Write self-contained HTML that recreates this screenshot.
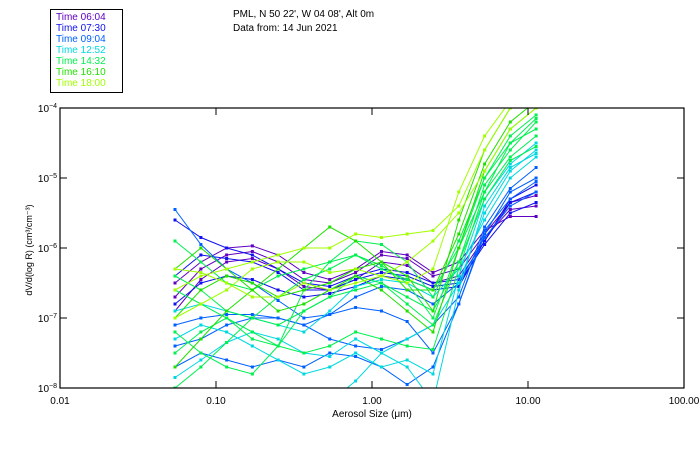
<!DOCTYPE html>
<html><head><meta charset="utf-8"><style>
body{margin:0;background:#fff;}
svg{display:block;font-family:"Liberation Sans",sans-serif;}
</style></head><body>
<svg id="chart" width="700" height="450" viewBox="0 0 700 450">
<rect width="700" height="450" fill="#fff"/>
<g>
<rect x="50.5" y="9.5" width="72" height="83" fill="none" stroke="#000"/>
<g id="legend-items" font-size="10"></g>
</g>
<text x="233" y="17" font-size="10">PML, N 50 22', W 04 08', Alt 0m</text>
<text x="233" y="31" font-size="10">Data from: 14 Jun 2021</text>
<clipPath id="clip"><rect x="60" y="108" width="624" height="280"/></clipPath>
<g id="series" clip-path="url(#clip)"></g>
<rect x="60" y="108" width="624" height="280" fill="none" stroke="#000" stroke-width="1.2"/>
<g id="axes" font-size="10"></g>
<text x="372" y="417" font-size="10" text-anchor="middle">Aerosol Size (μm)</text>
<text transform="translate(32,250) rotate(-90)" font-size="9" text-anchor="middle">dV/d(log R) (cm³/cm⁻³)</text>
</svg>
<script>
const sizes=[0.0546,0.0800,0.117,0.171,0.250,0.366,0.536,0.785,1.15,1.68,2.46,3.60,5.27,7.70,11.27];
const legendTimes=["06:04","07:30","09:04","12:52","14:32","16:10","18:00"];
const palette=["#6000c0","#1010f0","#0060ff","#00d8e0","#00f050","#20e000","#a0ff00"];
const seriesGroup=[0,0,0,1,1,1,2,2,2,2,3,3,3,3,4,4,4,4,4,4,5,5,5,6,6,6];
const s00=[-6.5,-6.2,-6.0,-5.97,-6.1,-6.35,-6.45,-6.3,-6.05,-6.1,-6.35,-6.2,-5.75,-5.55,-5.55];
const s01=[-6.7,-6.3,-6.1,-6.05,-6.2,-6.45,-6.5,-6.35,-6.1,-6.15,-6.4,-6.3,-5.8,-5.35,-5.25];
const s02=[-6.9,-6.45,-6.2,-6.15,-6.3,-6.55,-6.6,-6.45,-6.2,-6.25,-6.5,-6.4,-5.85,-5.45,-5.4];
const s03=[-5.6,-5.85,-6.0,-6.1,-6.3,-6.5,-6.55,-6.4,-6.3,-6.35,-6.5,-6.45,-5.9,-5.35,-5.2];
const s04=[-6.4,-6.1,-6.15,-6.2,-6.35,-6.6,-6.6,-6.45,-6.35,-6.4,-6.55,-6.5,-5.95,-5.5,-5.35];
const s05=[-6.8,-6.5,-6.4,-6.45,-6.6,-6.7,-6.65,-6.55,-6.4,-6.45,-6.6,-6.55,-5.9,-5.3,-5.1];
const s06=[-5.45,-5.95,-6.3,-6.5,-6.75,-7.0,-6.95,-6.85,-6.9,-7.05,-7.5,-6.8,-5.8,-5.2,-5.0];
const s07=[-7.4,-7.3,-7.1,-7.0,-7.0,-7.1,-7.3,-7.4,-7.45,-7.3,-7.1,-6.7,-5.7,-5.15,-4.85];
const s08=[-7.7,-7.5,-7.6,-7.7,-7.6,-7.7,-7.5,-7.55,-7.7,-7.95,-7.7,-6.8,-5.75,-5.3,-5.05];
const s09=[-7.1,-7.0,-6.95,-6.95,-7.0,-7.1,-6.95,-6.7,-6.55,-6.6,-6.8,-6.5,-5.85,-5.4,-5.2];
const s10=[-7.85,-7.6,-7.35,-7.2,-7.3,-7.5,-7.55,-7.3,-7.5,-7.7,-8.2,-6.6,-5.4,-4.85,-4.65];
const s11=[-8.15,-8.2,-8.25,-8.3,-8.3,-8.2,-8.2,-7.9,-7.5,-7.3,-7.1,-6.5,-5.5,-4.9,-4.6];
const s12=[-6.9,-6.8,-6.9,-7.0,-7.1,-7.2,-6.9,-6.55,-6.45,-6.5,-6.7,-6.3,-5.6,-5.0,-4.7];
const s13=[-7.3,-7.1,-7.2,-7.4,-7.6,-7.8,-7.7,-7.5,-7.7,-7.6,-7.8,-6.4,-5.3,-4.8,-4.5];
const s14=[-7.5,-7.2,-7.0,-7.2,-7.4,-7.5,-7.4,-7.2,-7.3,-7.4,-7.45,-6.3,-5.2,-4.7,-4.4];
const s15=[-6.4,-6.6,-6.9,-7.0,-7.1,-6.9,-6.7,-6.6,-6.5,-6.7,-6.9,-6.2,-5.3,-4.75,-4.55];
const s16=[-8.0,-7.7,-7.35,-7.0,-6.7,-6.45,-6.3,-6.1,-6.3,-6.45,-6.6,-6.0,-5.0,-4.5,-4.3];
const s17=[-6.6,-6.8,-7.0,-7.3,-7.4,-6.6,-6.2,-5.9,-5.95,-6.2,-6.7,-5.9,-5.0,-4.4,-4.1];
const s18=[-7.2,-7.5,-7.7,-7.8,-7.4,-6.9,-6.7,-6.4,-6.5,-6.8,-7.1,-6.2,-5.1,-4.6,-4.2];
const s19=[-5.9,-6.2,-6.5,-6.6,-6.4,-6.3,-6.2,-6.1,-6.25,-6.5,-7.0,-6.0,-5.2,-4.5,-4.15];
const s20=[-7.7,-7.3,-6.9,-6.6,-6.3,-6.0,-5.7,-5.9,-6.2,-6.6,-6.6,-5.8,-4.8,-4.2,-3.9];
const s21=[-6.3,-6.0,-6.3,-6.6,-6.9,-6.8,-6.6,-6.4,-6.6,-6.9,-7.2,-6.0,-4.9,-4.3,-4.0];
const s22=[-7.0,-6.6,-6.4,-6.5,-6.7,-6.6,-6.5,-6.3,-6.2,-6.4,-6.9,-5.6,-4.6,-4.0,-3.8];
const s23=[-6.6,-6.4,-6.3,-6.2,-6.1,-6.0,-6.0,-5.8,-5.85,-5.8,-5.75,-5.4,-4.6,-4.0,-3.7];
const s24=[-7.0,-6.8,-6.6,-6.3,-6.2,-6.2,-6.35,-6.3,-6.4,-6.5,-6.3,-5.2,-4.4,-3.9,-3.6];
const s25=[-6.3,-6.35,-6.5,-6.7,-6.7,-6.5,-6.6,-6.5,-6.4,-6.2,-5.9,-5.5,-4.9,-4.3,-4.0];
const allSeries=[s00,s01,s02,s03,s04,s05,s06,s07,s08,s09,s10,s11,s12,s13,s14,s15,s16,s17,s18,s19,s20,s21,s22,s23,s24,s25];
const xTickVals=[0.01,0.1,1,10,100];
const xTickLabels=["0.01","0.10","1.00","10.00","100.00"];
const yTickExps=[-4,-5,-6,-7,-8];

const NS="http://www.w3.org/2000/svg";
function xs(v){return 60+(Math.log10(v)+2)*156;}
function ys(l){return 108+(-4-l)*70;}
function mk(tag,attrs,parent){const e=document.createElementNS(NS,tag);for(const k in attrs)e.setAttribute(k,attrs[k]);parent.appendChild(e);return e;}

const lg=document.getElementById('legend-items');
legendTimes.forEach((t,i)=>{
  const e=mk('text',{x:56,y:20+i*11,fill:palette[i]},lg);
  
  
  e.textContent='Time '+t;
});

const sg=document.getElementById('series');
allSeries.forEach((vals,si)=>{
  const col=palette[seriesGroup[si]];
  const g=mk('g',{},sg);
  
  
  const pts=vals.map((v,i)=>xs(sizes[i]).toFixed(1)+','+ys(v).toFixed(1)).join(' ');
  mk('polyline',{points:pts,fill:'none',stroke:col,'stroke-width':1},g);
  vals.forEach((v,i)=>{
    const r=mk('rect',{x:xs(sizes[i])-1.5,y:ys(v)-1.5,width:3,height:3,fill:col},g);
    
    
  });
});

const ax=document.getElementById('axes');
xTickVals.forEach((v,i)=>{
  const x=xs(v);
  mk('line',{x1:x,y1:388,x2:x,y2:381,stroke:'#000'},ax);
  mk('line',{x1:x,y1:108,x2:x,y2:115,stroke:'#000'},ax);
  const t=mk('text',{x:x,y:404,'text-anchor':'middle'},ax);
  
  
  t.textContent=xTickLabels[i];
});
yTickExps.forEach(ex=>{
  const y=ys(ex);
  mk('line',{x1:60,y1:y,x2:67,y2:y,stroke:'#000'},ax);
  mk('line',{x1:684,y1:y,x2:677,y2:y,stroke:'#000'},ax);
  const t=mk('text',{x:57,y:y+4,'text-anchor':'end'},ax);
  
  
  t.textContent='10';
  const s=mk('tspan',{dy:-4,'font-size':7},t);
  s.textContent=String(ex).replace('-','−');
});
</script>
</body></html>
